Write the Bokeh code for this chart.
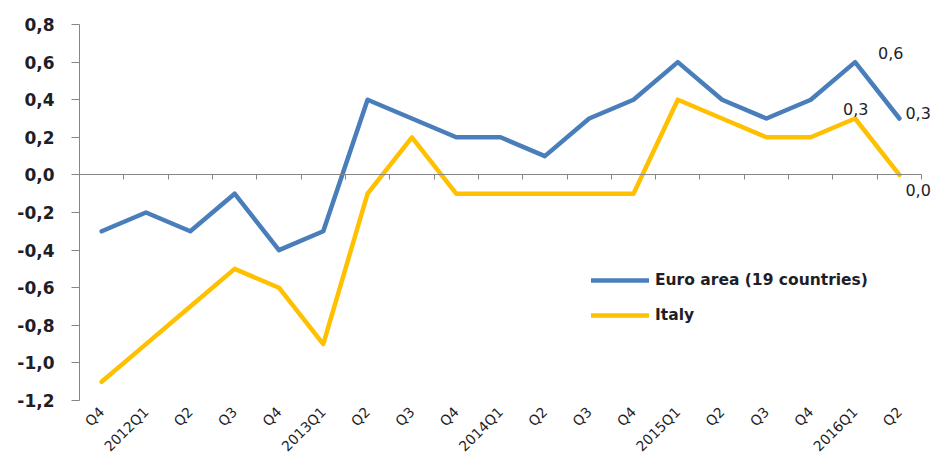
import math
from bokeh.plotting import figure
from bokeh.models import (Range1d, FixedTicker, LinearAxis, Legend, LegendItem,
                          ColumnDataSource, LabelSet, CustomJSTickFormatter)
from bokeh.core.properties import value
from bokeh.embed import file_html
from bokeh.resources import INLINE

# ---- data ----
quarters = ["Q4", "2012Q1", "Q2", "Q3", "Q4", "2013Q1", "Q2", "Q3", "Q4", "2014Q1",
            "Q2", "Q3", "Q4", "2015Q1", "Q2", "Q3", "Q4", "2016Q1", "Q2"]
euro_area = [-0.3, -0.2, -0.3, -0.1, -0.4, -0.3, 0.4, 0.3, 0.2, 0.2,
             0.1, 0.3, 0.4, 0.6, 0.4, 0.3, 0.4, 0.6, 0.3]
italy = [-1.1, -0.9, -0.7, -0.5, -0.6, -0.9, -0.1, 0.2, -0.1, -0.1,
         -0.1, -0.1, -0.1, 0.4, 0.3, 0.2, 0.2, 0.3, 0.0]
y_ticks = [-1.2, -1.0, -0.8, -0.6, -0.4, -0.2, 0.0, 0.2, 0.4, 0.6, 0.8]
series_names = ["Euro area (19 countries)", "Italy"]

BLUE = "#4A7EBB"
YELLOW = "#FFC000"
AXIS = "#868686"
TXT = "#1e1e28"
FONT = "DejaVu Sans"

x = list(range(len(quarters)))
n = len(quarters)

p = figure(width=949, height=463, output_backend="svg", toolbar_location=None,
           x_range=Range1d(-0.5, n + 0.13),
           y_range=Range1d(y_ticks[0], y_ticks[-1]),
           min_border_left=79, min_border_top=24, min_border_right=0,
           min_border_bottom=60)
p.xgrid.visible = False
p.ygrid.visible = False
p.outline_line_color = None
p.background_fill_color = "white"
p.border_fill_color = "white"

# y axis
ya = p.yaxis[0]
ya.ticker = FixedTicker(ticks=y_ticks)
ya.formatter = CustomJSTickFormatter(
    code="var s = tick.toFixed(1).replace('.', ','); return s == '-0,0' ? '0,0' : s;")
ya.axis_line_color = AXIS
ya.major_tick_line_color = AXIS
ya.minor_tick_line_color = None
ya.major_tick_out = 8
ya.major_tick_in = 0
ya.major_label_text_font = FONT
ya.major_label_text_font_style = "bold"
ya.major_label_text_font_size = "17px"
ya.major_label_text_color = TXT
ya.major_label_standoff = 17

# x axis (labels only, at bottom)
xa = p.xaxis[0]
xa.ticker = FixedTicker(ticks=x)
xa.major_label_overrides = {i: q for i, q in zip(x, quarters)}
xa.major_label_orientation = math.pi / 4
xa.axis_line_color = None
xa.major_tick_line_color = None
xa.minor_tick_line_color = None
xa.major_label_text_font = FONT
xa.major_label_text_font_size = "14px"
xa.major_label_text_color = TXT
xa.major_label_standoff = 3

# category axis line at y = 0
zero_axis = LinearAxis(fixed_location=0, bounds=(-0.5, n - 0.5),
                       ticker=FixedTicker(ticks=[i + 0.5 for i in x]),
                       formatter=CustomJSTickFormatter(code="return '';"),
                       axis_line_color=AXIS, major_tick_line_color=AXIS,
                       minor_tick_line_color=None,
                       major_tick_in=5, major_tick_out=0,
                       major_label_standoff=0,
                       major_label_text_font_size="1px")
p.add_layout(zero_axis, "above")

r1 = p.line(x, euro_area, line_width=4.5, line_color=BLUE,
            line_join="round", line_cap="round")
r2 = p.line(x, italy, line_width=4.5, line_color=YELLOW,
            line_join="round", line_cap="round")

legend = Legend(items=[LegendItem(label=series_names[0], renderers=[r1]),
                       LegendItem(label=series_names[1], renderers=[r2])],
                location=(512, 75), padding=0, margin=0,
                border_line_color=None, background_fill_alpha=0,
                label_text_font=FONT, label_text_font_style="bold",
                label_text_font_size="15.5px", label_text_color=TXT,
                glyph_width=58, glyph_height=20, label_height=20,
                spacing=15, label_standoff=6)
p.add_layout(legend, "center")

# data labels for the last two quarters
last = n - 1
lab_idx = [last - 1, last, last - 1, last]
lab_vals = [euro_area[last - 1], euro_area[last], italy[last - 1], italy[last]]
src = ColumnDataSource(dict(
    x=lab_idx, y=lab_vals,
    text=[("%.1f" % v).replace(".", ",") for v in lab_vals],
    xo=[23, 6, -12, 6], yo=[9, 6, 10, -15]))
labels = LabelSet(x="x", y="y", text="text", source=src, x_offset="xo", y_offset="yo",
                  text_font=value(FONT), text_font_size=value("16px"),
                  text_color=value(TXT),
                  text_align=value("left"), text_baseline=value("middle"))
p.add_layout(labels)

open("out.html", "w").write(file_html(p, INLINE))
